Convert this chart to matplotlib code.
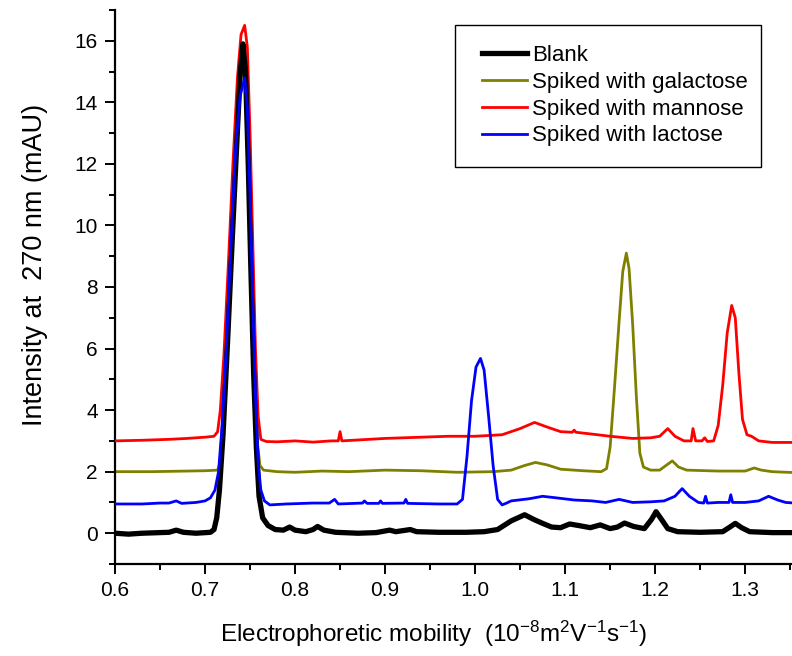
import matplotlib
matplotlib.use("Agg")
import matplotlib.pyplot as plt
from matplotlib.patches import Rectangle
from matplotlib.ticker import MultipleLocator

plt.rcParams['font.family'] = ['Liberation Sans', 'DejaVu Sans']
plt.rcParams['mathtext.fontset'] = 'custom'
plt.rcParams['mathtext.rm'] = 'Liberation Sans'
plt.rcParams['mathtext.it'] = 'Liberation Sans'

# ---------------- data ----------------
blank_x = [0.600, 0.615, 0.630, 0.650, 0.660, 0.668, 0.676, 0.690, 0.706, 0.710,
           0.713, 0.716, 0.720, 0.725, 0.730, 0.735, 0.739, 0.742, 0.745, 0.748,
           0.751, 0.754, 0.757, 0.760, 0.764, 0.770, 0.778, 0.787, 0.794, 0.800,
           0.812, 0.820, 0.825, 0.832, 0.845, 0.870, 0.890, 0.905, 0.912, 0.928,
           0.935, 0.960, 0.990, 1.010, 1.025, 1.040, 1.055, 1.065, 1.075, 1.085,
           1.095, 1.105, 1.115, 1.128, 1.139, 1.150, 1.158, 1.166, 1.176, 1.188,
           1.196, 1.201, 1.207, 1.214, 1.225, 1.250, 1.275, 1.283, 1.289, 1.296,
           1.305, 1.330, 1.355]
blank_y = [0.00, -0.03, 0.00, 0.02, 0.03, 0.10, 0.03, 0.00, 0.03, 0.12,
           0.50, 1.40, 3.20, 6.20, 9.40, 12.50, 14.90, 15.90, 15.00, 12.00,
           8.50, 5.20, 2.80, 1.20, 0.50, 0.25, 0.12, 0.10, 0.20, 0.10,
           0.05, 0.12, 0.22, 0.10, 0.03, 0.00, 0.02, 0.10, 0.05, 0.12,
           0.05, 0.03, 0.03, 0.05, 0.12, 0.40, 0.60, 0.45, 0.32, 0.20,
           0.18, 0.30, 0.25, 0.18, 0.27, 0.15, 0.20, 0.33, 0.22, 0.15,
           0.45, 0.70, 0.45, 0.15, 0.05, 0.03, 0.05, 0.20, 0.32, 0.18,
           0.05, 0.02, 0.02]

gal_x = [0.600, 0.640, 0.680, 0.700, 0.714, 0.717, 0.720, 0.725, 0.730, 0.735,
         0.739, 0.743, 0.746, 0.749, 0.752, 0.755, 0.758, 0.761, 0.765, 0.780,
         0.800, 0.830, 0.860, 0.900, 0.940, 0.980, 1.020, 1.040, 1.055, 1.067,
         1.080, 1.095, 1.120, 1.140, 1.146, 1.150, 1.155, 1.160, 1.164, 1.168,
         1.171, 1.175, 1.179, 1.183, 1.187, 1.195, 1.205, 1.212, 1.219, 1.226,
         1.235, 1.270, 1.300, 1.310, 1.318, 1.330, 1.355]
gal_y = [2.00, 2.00, 2.02, 2.03, 2.05, 2.30, 3.20, 6.00, 9.20, 12.30,
         14.60, 15.40, 14.50, 11.50, 8.00, 5.00, 3.00, 2.20, 2.05, 2.00,
         1.98, 2.02, 2.00, 2.05, 2.03, 1.98, 2.00, 2.05, 2.20, 2.30,
         2.22, 2.08, 2.03, 2.00, 2.10, 2.80, 4.80, 6.90, 8.50, 9.10,
         8.60, 6.80, 4.50, 2.60, 2.15, 2.05, 2.05, 2.20, 2.35, 2.15,
         2.05, 2.02, 2.02, 2.12, 2.05, 2.00, 1.97]

man_x = [0.600, 0.630, 0.660, 0.680, 0.700, 0.710, 0.714, 0.717, 0.721, 0.726,
         0.731, 0.736, 0.740, 0.744, 0.747, 0.750, 0.753, 0.756, 0.759, 0.762,
         0.768, 0.780, 0.800, 0.820, 0.840, 0.848, 0.850, 0.852, 0.870, 0.900,
         0.940, 0.970, 1.000, 1.030, 1.050, 1.066, 1.080, 1.095, 1.108, 1.110,
         1.112, 1.130, 1.150, 1.175, 1.195, 1.205, 1.214, 1.222, 1.232, 1.240,
         1.242, 1.245, 1.252, 1.255, 1.258, 1.265, 1.270, 1.275, 1.280, 1.285,
         1.289, 1.293, 1.297, 1.302, 1.307, 1.315, 1.330, 1.355]
man_y = [3.00, 3.02, 3.05, 3.08, 3.12, 3.15, 3.30, 4.00, 5.80, 8.80,
         12.00, 14.80, 16.20, 16.50, 15.80, 13.00, 9.50, 6.00, 3.80, 3.05,
         2.98, 2.97, 3.00, 2.96, 3.00, 3.00, 3.30, 3.00, 3.03, 3.08,
         3.12, 3.15, 3.15, 3.20, 3.40, 3.60, 3.45, 3.30, 3.28, 3.35,
         3.28, 3.22, 3.15, 3.08, 3.10, 3.15, 3.40, 3.15, 3.00, 3.00,
         3.40, 3.00, 3.00, 3.10, 2.98, 3.00, 3.50, 4.80, 6.50, 7.40,
         7.00, 5.20, 3.70, 3.20, 3.15, 3.00, 2.95, 2.95]

lac_x = [0.600, 0.630, 0.650, 0.660, 0.668, 0.674, 0.690, 0.700, 0.706, 0.711,
         0.715, 0.719, 0.724, 0.729, 0.734, 0.739, 0.744, 0.747, 0.750, 0.753,
         0.756, 0.759, 0.762, 0.766, 0.772, 0.790, 0.820, 0.838, 0.844, 0.848,
         0.875, 0.877, 0.880, 0.893, 0.895, 0.897, 0.921, 0.923, 0.925, 0.960,
         0.980, 0.986, 0.991, 0.996, 1.001, 1.006, 1.010, 1.015, 1.020, 1.025,
         1.030, 1.035, 1.040, 1.060, 1.075, 1.090, 1.110, 1.130, 1.145, 1.160,
         1.175, 1.195, 1.210, 1.222, 1.230, 1.238, 1.248, 1.254, 1.256, 1.258,
         1.270, 1.282, 1.284, 1.286, 1.300, 1.315, 1.326, 1.336, 1.345, 1.355]
lac_y = [0.95, 0.95, 0.98, 0.98, 1.05, 0.97, 1.00, 1.05, 1.15, 1.40,
         2.00, 3.50, 6.20, 9.50, 12.50, 14.20, 14.80, 13.80, 11.00, 7.50,
         4.50, 2.30, 1.40, 1.05, 0.92, 0.95, 0.98, 0.98, 1.10, 0.95,
         0.98, 1.05, 0.97, 0.97, 1.05, 0.97, 0.98, 1.10, 0.97, 0.95,
         0.95, 1.10, 2.50, 4.30, 5.40, 5.68, 5.30, 3.80, 2.20, 1.10,
         0.92, 0.98, 1.05, 1.12, 1.20, 1.15, 1.08, 1.05, 1.00, 1.10,
         1.00, 1.02, 1.05, 1.20, 1.45, 1.20, 1.00, 0.98, 1.20, 0.98,
         1.00, 1.00, 1.25, 1.00, 1.00, 1.05, 1.20, 1.08, 1.00, 0.98]

labels = ["Blank", "Spiked with galactose", "Spiked with mannose", "Spiked with lactose"]
colors = ["#000000", "#808000", "#ff0000", "#0000ff"]

x_ticks = [0.6, 0.7, 0.8, 0.9, 1.0, 1.1, 1.2, 1.3]
y_ticks = [0, 2, 4, 6, 8, 10, 12, 14, 16]

x_title = r"Electrophoretic mobility  (10$^{-8}$m$^{2}$V$^{-1}$s$^{-1}$)"
y_title = "Intensity at  270 nm (mAU)"

# ---------------- figure ----------------
fig = plt.figure(figsize=(7.92, 6.56), dpi=100)
ax = fig.add_axes([115 / 792, (656 - 564) / 656, 677 / 792, 554 / 656])

l_gal, = ax.plot(gal_x, gal_y, color=colors[1], lw=2.0, zorder=2)
l_man, = ax.plot(man_x, man_y, color=colors[2], lw=2.0, zorder=3)
l_blk, = ax.plot(blank_x, blank_y, color=colors[0], lw=3.8, zorder=4)
l_lac, = ax.plot(lac_x, lac_y, color=colors[3], lw=2.0, zorder=5)

ax.set_xlim(0.6, 1.352)
ax.set_ylim(-1, 17)
ax.set_xticks(x_ticks)
ax.set_yticks(y_ticks)
ax.set_xticklabels([f"{v:.1f}" for v in x_ticks])
ax.set_yticklabels([str(v) for v in y_ticks])
ax.xaxis.set_minor_locator(MultipleLocator(0.05))
ax.yaxis.set_minor_locator(MultipleLocator(1))
ax.tick_params(which='major', direction='out', length=7.5, width=1.4, labelsize=15, pad=5)
ax.tick_params(which='minor', direction='out', length=4.5, width=1.4)
for s in ['top', 'right']:
    ax.spines[s].set_visible(False)
for s in ['left', 'bottom']:
    ax.spines[s].set_linewidth(1.6)

ax.text((434 - 115) / 677, (564 - 642) / 554, x_title, transform=ax.transAxes,
        ha='center', va='baseline', fontsize=17.5)
ax.text((42 - 115) / 677, (564 - 265) / 554, y_title, transform=ax.transAxes,
        ha='center', va='baseline', rotation=90, rotation_mode='anchor', fontsize=19.5)

leg = ax.legend([l_blk, l_gal, l_man, l_lac], labels, loc='upper left',
                bbox_to_anchor=((482 - 115) / 677, (564 - 45) / 554),
                frameon=False, fontsize=16, borderpad=0, borderaxespad=0,
                handlelength=2.03, handletextpad=0.22, labelspacing=0.26)
ax.add_patch(Rectangle(((455 - 115) / 677, (564 - 167) / 554), (761 - 455) / 677, (167 - 25) / 554,
                       transform=ax.transAxes, fill=False, edgecolor='black', lw=1.0, zorder=10))

fig.savefig("out.png", dpi=100)
